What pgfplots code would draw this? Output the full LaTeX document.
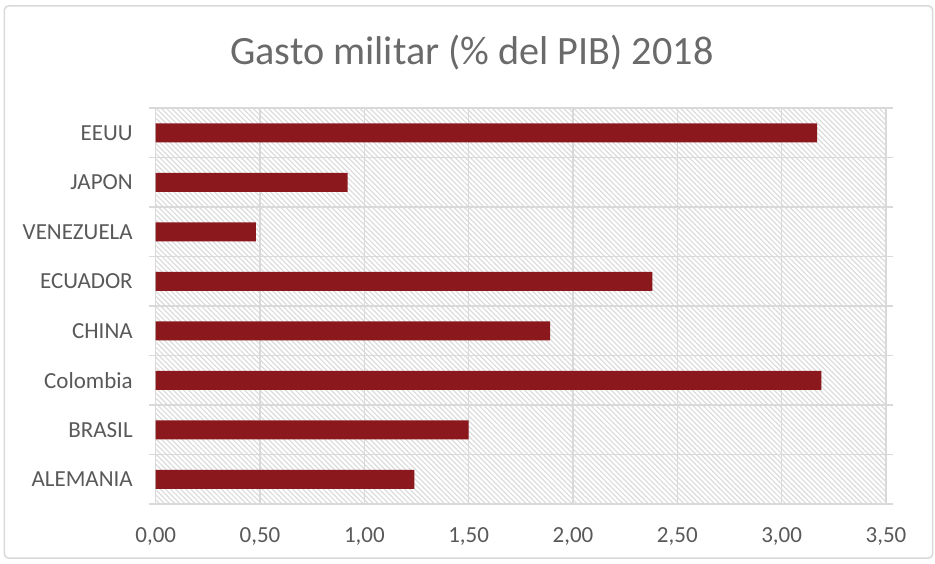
\documentclass[border=0pt]{standalone}
\usepackage{pgfplots}
\pgfplotsset{compat=1.18}
\usepackage{fontspec}
\setmainfont{Carlito}
\usetikzlibrary{patterns.meta}
\definecolor{barc}{HTML}{8B181C}
\definecolor{txt}{HTML}{595959}
\definecolor{ttl}{HTML}{6A6A6A}
\definecolor{grd}{HTML}{D9D9D9}
\definecolor{hatch}{HTML}{DCDCDC}
\begin{document}
\begin{tikzpicture}
\path[use as bounding box] (0pt,0pt) rectangle (467.5pt,281.5pt);
\draw[grd, line width=0.75pt, rounded corners=2pt] (2.2pt,2.5pt) rectangle (466.3pt,278.5pt);
\node[anchor=base, text=ttl, font=\fontsize{20.1}{23}\selectfont, inner sep=0pt] at (235.9pt,249pt) {Gasto militar (\% del PIB) 2018};
\begin{axis}[
  at={(77.85pt,29.5pt)}, anchor=south west,
  scale only axis, width=365.15pt, height=198pt,
  xbar, bar width=9.5pt,
  xmin=0, xmax=3.5, ymin=-0.5, ymax=7.5,
  xtick={0,0.5,1,1.5,2,2.5,3,3.5},
  ytick={0,1,2,3,4,5,6,7},
  yticklabels={ALEMANIA,BRASIL,Colombia,CHINA,ECUADOR,VENEZUELA,JAPON,EEUU},
  minor ytick={-0.5,0.5,1.5,2.5,3.5,4.5,5.5,6.5,7.5},
  xmajorgrids, yminorgrids,
  grid style={grd, line width=0.75pt},
  minor grid style={grd, line width=0.75pt},
  axis line style={grd, line width=0.75pt},
  tick style={grd, line width=0.75pt},
  tick align=outside, major tick length=0pt, minor tick length=3.5pt,
  xticklabel style={text=txt, font=\fontsize{11.5}{13}\selectfont, inner sep=0pt, yshift=-11.5pt},
  yticklabel style={text=txt, font=\fontsize{11.5}{13}\selectfont, inner sep=0pt, xshift=-11.3pt},
  /pgf/number format/.cd, fixed, fixed zerofill, precision=2, use comma, assume math mode=true,
  /pgfplots/.cd,
  axis background/.style={fill=white, postaction={pattern={Lines[angle=-45,distance=1.8pt,line width=0.6pt]}, pattern color=hatch}},
]
\addplot[draw=none, fill=barc] coordinates {(1.24,0) (1.50,1) (3.19,2) (1.89,3) (2.38,4) (0.48,5) (0.92,6) (3.17,7)};
\end{axis}
\end{tikzpicture}
\end{document}
